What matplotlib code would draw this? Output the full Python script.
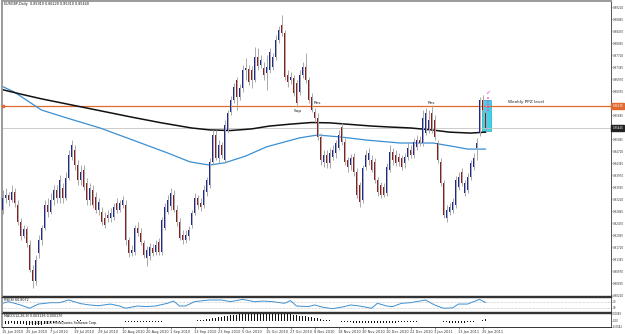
import matplotlib
matplotlib.use('Agg')
import matplotlib.pyplot as plt
import matplotlib.transforms as mtransforms
from matplotlib.patches import Rectangle
import numpy as np

# ---------------- data (prices in 1e-4 units) ----------------
open_p = [8288, 8325, 8335, 8319, 8344, 8303, 8250, 8206, 8228, 8178,
          8100, 8066, 8153, 8194, 8231, 8303, 8281, 8319, 8350, 8325,
          8356, 8325, 8388, 8453, 8475, 8428, 8381, 8413, 8372, 8319,
          8350, 8328, 8288, 8281, 8263, 8272, 8263, 8266, 8310, 8288,
          8303, 8303, 8194, 8153, 8156, 8231, 8216, 8184, 8138, 8144,
          8169, 8156, 8188, 8156, 8231, 8281, 8300, 8335, 8288, 8250,
          8209, 8194, 8206, 8241, 8278, 8325, 8310, 8303, 8344, 8366,
          8438, 8522, 8450, 8491, 8444, 8538, 8594, 8631, 8694, 8641,
          8669, 8725, 8728, 8725, 8694, 8766, 8741, 8731, 8716, 8725,
          8735, 8766, 8819, 8866, 8841, 8710, 8694, 8700, 8685, 8656,
          8710, 8735, 8694, 8641, 8594, 8575, 8516, 8438, 8460, 8435,
          8453, 8466, 8481, 8547, 8500, 8444, 8428, 8453, 8406, 8366,
          8319, 8422, 8444, 8444, 8438, 8381, 8366, 8360, 8341, 8413,
          8469, 8460, 8453, 8450, 8435, 8453, 8475, 8460, 8485, 8506,
          8497, 8528, 8538, 8591, 8569, 8497, 8438, 8372, 8263, 8281,
          8288, 8303, 8360, 8406, 8341, 8350, 8391, 8422, 8481, 8528,
          8631, 8591]
close_p = [8325, 8335, 8319, 8344, 8310, 8250, 8206, 8228, 8184, 8100,
           8066, 8131, 8194, 8231, 8303, 8281, 8319, 8350, 8325, 8381,
           8325, 8388, 8460, 8491, 8428, 8381, 8406, 8360, 8319, 8356,
           8303, 8288, 8313, 8250, 8241, 8263, 8278, 8297, 8288, 8310,
           8319, 8194, 8153, 8163, 8231, 8216, 8188, 8147, 8163, 8172,
           8153, 8178, 8156, 8256, 8297, 8319, 8341, 8288, 8250, 8200,
           8194, 8209, 8225, 8278, 8325, 8303, 8297, 8350, 8381, 8438,
           8522, 8450, 8491, 8460, 8553, 8591, 8631, 8672, 8641, 8669,
           8725, 8731, 8688, 8694, 8766, 8738, 8756, 8710, 8735, 8781,
           8766, 8819, 8850, 8841, 8703, 8688, 8703, 8653, 8622, 8710,
           8735, 8694, 8631, 8600, 8575, 8516, 8444, 8460, 8435, 8466,
           8475, 8497, 8522, 8500, 8438, 8422, 8450, 8406, 8335, 8313,
           8419, 8460, 8466, 8413, 8381, 8344, 8335, 8335, 8422, 8469,
           8444, 8435, 8438, 8422, 8453, 8481, 8460, 8500, 8506, 8497,
           8575, 8591, 8569, 8538, 8516, 8444, 8372, 8272, 8288, 8297,
           8313, 8381, 8391, 8372, 8372, 8391, 8435, 8450, 8497, 8631,
           8600, 8544]
high_p = [8350, 8356, 8344, 8366, 8356, 8319, 8263, 8241, 8238, 8194,
          8116, 8147, 8209, 8241, 8319, 8325, 8341, 8366, 8366, 8397,
          8372, 8406, 8475, 8506, 8491, 8444, 8428, 8428, 8388, 8372,
          8366, 8344, 8325, 8297, 8281, 8288, 8294, 8310, 8325, 8319,
          8331, 8319, 8203, 8178, 8241, 8250, 8231, 8194, 8175, 8184,
          8181, 8194, 8200, 8266, 8310, 8335, 8356, 8350, 8303, 8263,
          8225, 8225, 8238, 8288, 8341, 8335, 8325, 8366, 8391, 8450,
          8538, 8538, 8506, 8500, 8569, 8600, 8644, 8685, 8703, 8681,
          8741, 8763, 8741, 8738, 8797, 8794, 8772, 8750, 8772, 8794,
          8778, 8835, 8863, 8897, 8850, 8725, 8719, 8710, 8694, 8725,
          8750, 8778, 8703, 8653, 8606, 8591, 8528, 8475, 8475, 8481,
          8491, 8506, 8538, 8560, 8513, 8453, 8463, 8466, 8419, 8375,
          8428, 8475, 8481, 8460, 8450, 8391, 8375, 8372, 8435, 8491,
          8481, 8475, 8466, 8460, 8466, 8497, 8491, 8513, 8522, 8519,
          8600, 8606, 8600, 8616, 8585, 8506, 8450, 8381, 8303, 8310,
          8325, 8394, 8406, 8419, 8381, 8403, 8444, 8466, 8513, 8641,
          8647, 8622]
low_p = [8275, 8310, 8300, 8313, 8297, 8241, 8194, 8200, 8172, 8094,
         8044, 8053, 8138, 8178, 8225, 8266, 8275, 8303, 8310, 8310,
         8310, 8319, 8381, 8444, 8413, 8366, 8366, 8350, 8303, 8303,
         8294, 8278, 8272, 8241, 8231, 8250, 8250, 8256, 8278, 8281,
         8294, 8178, 8141, 8144, 8147, 8206, 8178, 8138, 8113, 8131,
         8144, 8147, 8147, 8147, 8225, 8275, 8288, 8281, 8238, 8194,
         8181, 8184, 8194, 8231, 8272, 8291, 8285, 8294, 8331, 8356,
         8428, 8444, 8435, 8450, 8435, 8528, 8585, 8622, 8600, 8631,
         8656, 8694, 8678, 8669, 8688, 8725, 8731, 8694, 8663, 8716,
         8725, 8756, 8810, 8831, 8694, 8672, 8681, 8644, 8610, 8647,
         8700, 8685, 8622, 8594, 8563, 8506, 8428, 8422, 8419, 8419,
         8444, 8450, 8475, 8491, 8428, 8406, 8413, 8394, 8325, 8297,
         8310, 8413, 8428, 8406, 8372, 8331, 8325, 8328, 8331, 8406,
         8428, 8425, 8425, 8413, 8419, 8444, 8450, 8450, 8475, 8488,
         8488, 8522, 8528, 8528, 8506, 8435, 8363, 8263, 8250, 8272,
         8278, 8294, 8350, 8363, 8331, 8341, 8381, 8413, 8444, 8519,
         8591, 8531]

# moving averages (bar index, value in 1e-4)
ma_black_idx = [-1, 6, 13, 23, 33, 43, 53, 63, 69, 76, 83, 89, 96, 103, 109, 116,
                123, 129, 136, 143, 149, 156, 161]
ma_black_val = [8666, 8650, 8635, 8616, 8597, 8578, 8560, 8544, 8538, 8536, 8541,
                8550, 8556, 8561, 8560, 8555, 8550, 8547, 8544, 8538, 8531, 8528, 8531]
ma_blue_idx = [-1, 4, 8, 13, 21.5, 32.5, 43.5, 55, 62.5, 69, 74, 81, 88, 99, 105,
               112.5, 121.5, 132.5, 143.5, 151, 155, 161]
ma_blue_val = [8678, 8656, 8631, 8600, 8575, 8544, 8506, 8466, 8438, 8428, 8435,
               8456, 8485, 8513, 8522, 8516, 8506, 8497, 8497, 8485, 8478, 8478]

# RSI(8)
rsi_idx = [0, 2, 6, 9, 12, 16, 19, 22, 26, 29, 32, 36, 39, 41, 45, 48, 51, 55, 57, 59,
           61, 64, 67, 69, 73, 76, 80, 84, 87, 90, 94, 96, 98, 102, 104, 107, 110, 114,
           116, 119, 123, 125, 128, 130, 133, 136, 141, 144, 147, 150, 152, 155, 159, 161]
rsi_val = [58, 69, 47, 25, 53, 62, 62, 80, 56, 47, 42, 53, 40, 25, 40, 36, 40, 58, 73, 40,
           40, 69, 76, 80, 80, 69, 84, 69, 73, 69, 58, 76, 40, 36, 47, 31, 22, 36,
           47, 40, 25, 58, 40, 36, 58, 62, 80, 47, 25, 27, 53, 53, 84, 64]

# MACD histogram (1e-4 units)
macd_hist = [-22, -22, -21, -20, -21, -23, -25, -27, -29, -32, -34, -33, -31, -28, -25, -22, -18,
             -15, -13, -11, -8, -6, -4, -1, 0, 1, 1, 0, -1, -1, -2,
             -3, -4, -4, -4, -5, -5, -5, -6, -6, -6, -7, -8, -8, -8, -8, -8, -9, -9, -9, -8,
             -8, -8, -7, -6, -6,
             -4, -4, -4, -4, -4, -4, -3, -1, 0, 2, 4,
             7, 10, 13, 18, 21, 24, 27, 30, 34, 36, 39, 41, 43, 45,
             46, 48, 48, 49, 49, 49, 48, 48, 48, 49, 50, 50, 50, 48, 46, 43,
             41, 38, 35, 32, 30, 27, 24, 20, 16, 11, 7, 4, 1, -2,
             -4, -6, -8, -9, -11, -13, -14, -15, -17, -18, -18, -17, -17, -17, -18, -18, -18,
             -17, -16, -15, -14, -13, -13, -11, -11, -10, -8, -8, -6, -4,
             -3, -1, -1, -1, -4, -6, -10, -13, -15, -17, -18, -17, -15, -14, -12, -10, -7,
             -4, -1, 4, 8]

date_labels = ['15 Jun 2010', '25 Jun 2010', '7 Jul 2010', '19 Jul 2010', '29 Jul 2010',
               '10 Aug 2010', '20 Aug 2010', '1 Sep 2010', '13 Sep 2010', '23 Sep 2010',
               '5 Oct 2010', '15 Oct 2010', '27 Oct 2010', '8 Nov 2010', '18 Nov 2010',
               '30 Nov 2010', '10 Dec 2010', '22 Dec 2010', '3 Jan 2011', '13 Jan 2011',
               '25 Jan 2011']
date_bars = [0, 8, 16, 24, 32, 40, 48, 56, 64, 72, 80, 88, 96, 104, 112, 120, 128, 136,
             144, 152, 160]

# price-scale labels (the two hidden under the level boxes are omitted)
price_ticks = [0.89220, 0.88845, 0.88470, 0.88095, 0.87720, 0.87345, 0.86970, 0.86595,
               0.85845, 0.85095, 0.84720, 0.84345, 0.83970, 0.83595,
               0.83220, 0.82845, 0.82470, 0.82095, 0.81720, 0.81345, 0.80970, 0.80595,
               0.80220]
ppz_level = 0.8613
last_price = 0.8544
box_top, box_bottom = 0.8631, 0.8535

# ---------------- figure ----------------
W, H = 625, 334
fig = plt.figure(figsize=(W / 100, H / 100), dpi=100)
fig.patch.set_facecolor('white')


def fy(px):
    return 1 - px / H


L, R = 2, 611
ax = fig.add_axes([L / W, fy(296), (R - L) / W, 295 / H])
ax_r = fig.add_axes([L / W, fy(312), (R - L) / W, 15 / H])
ax_m = fig.add_axes([L / W, fy(327), (R - L) / W, 14 / H])

xlim = ((L - 2.5) / 3, (R - 2.5) / 3)
for a in (ax, ax_r, ax_m):
    a.set_xlim(*xlim)
    a.set_facecolor('white')

o = np.array(open_p) / 1e4
c = np.array(close_p) / 1e4
h = np.array(high_p) / 1e4
lo = np.array(low_p) / 1e4
idx = np.arange(len(o))

# cyan zone (drawn behind candles)
ax.add_patch(Rectangle((159.7, box_bottom), 3.0, box_top - box_bottom,
                       facecolor='#3fd3ea', edgecolor='#27a9c9', lw=0.5, zorder=1))

# reference lines
ax.axhline(ppz_level, color='#e0692f', lw=0.9, zorder=2)
ax.axhline(last_price, color='#c4c4c4', lw=0.6, zorder=1.5)
ax.plot([0.1], [ppz_level], marker='o', ms=1.6, color='#e0692f', zorder=3, clip_on=False)

# moving averages
ax.plot(ma_blue_idx, np.array(ma_blue_val) / 1e4, color='#3a8fd2', lw=0.9, zorder=2.5)
ax.plot(ma_black_idx, np.array(ma_black_val) / 1e4, color='#111111', lw=1.1, zorder=2.5)

# candles
ax.vlines(idx, lo, h, color='#a9a9a9', lw=0.7, zorder=3)
bull = c >= o
cols = np.where(bull, '#1d2896', '#8e1c1c')
body = np.maximum(np.abs(c - o), 0.00006)
ax.bar(idx, body, bottom=np.minimum(o, c), width=0.66, color=cols, lw=0, zorder=4)

# magenta marker
ax.vlines(161.8, 0.8596, 0.8641, colors='#e03ce0', linestyles=(0, (1, 1)), lw=1.1, zorder=5)
ax.text(161.8, 0.8655, '\u2713', color='#e03ce0', fontsize=4.5, ha='center', va='center', zorder=5)

# annotations
ax.text(98.5, 0.8597, 'Sup', fontsize=3.1, ha='center', va='center', color='#222222')
ax.text(105, 0.8621, 'Res', fontsize=3.1, ha='center', va='center', color='#222222')
ax.text(142.8, 0.8621, 'Res', fontsize=3.1, ha='center', va='center', color='#222222')
ax.text(174.5, 0.8625, 'Weekly PPZ level', fontsize=3.1, ha='center', va='center', color='#222222')

ax.text(2 / (R - L), 1 - 1.2 / 295, 'EURGBP,Daily  0.85910 0.86220 0.85310 0.85440',
        transform=ax.transAxes, fontsize=2.4, ha='left', va='top', color='#111111')

# price axis
ytop = 0.89439 - 0.0003125 * 1
ybot = 0.89439 - 0.0003125 * 296
ax.set_ylim(ybot, ytop)
ax.yaxis.tick_right()
ax.set_yticks(price_ticks)
ax.set_yticklabels([f'{v:.5f}' for v in price_ticks])
ax.tick_params(axis='y', labelsize=2.0, length=1.0, width=0.4, pad=0.5, colors='#333333')
ax.set_xticks([])

blend = mtransforms.blended_transform_factory(ax.transAxes, ax.transData)
ax.text(1.0025, ppz_level, '0.86130', transform=blend, fontsize=1.9, color='white', ha='left',
        va='center', clip_on=False, zorder=10,
        bbox=dict(facecolor='#e0692f', edgecolor='#e0692f', pad=0.4, boxstyle='square'))
ax.text(1.0025, last_price, '0.85440', transform=blend, fontsize=1.9, color='white', ha='left',
        va='center', clip_on=False, zorder=10,
        bbox=dict(facecolor='#222222', edgecolor='#222222', pad=0.4, boxstyle='square'))

for s in ('left', 'top'):
    ax.spines[s].set_color('#9a9a9a')
    ax.spines[s].set_linewidth(1.4)
ax.spines['right'].set_color('#555555')
ax.spines['right'].set_linewidth(0.7)
ax.spines['bottom'].set_color('#333333')
ax.spines['bottom'].set_linewidth(1.0)

# RSI pane
ax_r.plot(rsi_idx, rsi_val, color='#3a8fd2', lw=0.7)
ax_r.axhline(70, color='#9a9a9a', lw=0.4, ls=(0, (1, 1.5)))
ax_r.axhline(30, color='#9a9a9a', lw=0.4, ls=(0, (1, 1.5)))
ax_r.set_ylim(0, 100)
ax_r.yaxis.tick_right()
ax_r.set_yticks([70, 30])
ax_r.set_yticklabels(['70', '30'])
ax_r.tick_params(axis='y', labelsize=2.0, length=1.0, width=0.4, pad=0.5, colors='#333333')
ax_r.set_xticks([])
ax_r.text(2 / (R - L), 0.93, 'RSI(8) 60.8072', transform=ax_r.transAxes, fontsize=2.3,
          ha='left', va='top', color='#111111')
for s in ('top', 'bottom'):
    ax_r.spines[s].set_color('#333333')
    ax_r.spines[s].set_linewidth(1.0)
ax_r.spines['left'].set_color('#9a9a9a')
ax_r.spines['left'].set_linewidth(1.4)
ax_r.spines['right'].set_color('#555555')
ax_r.spines['right'].set_linewidth(0.7)

# MACD pane
ax_m.bar(idx, np.array(macd_hist) / 1e4, width=0.35, color='#111111', lw=0)
ax_m.set_ylim(-0.00455, 0.00525)
ax_m.yaxis.tick_right()
ax_m.set_yticks([0.0049, 0.0, -0.0042])
ax_m.set_yticklabels(['0.0049', '0.00', '-0.0042'])
ax_m.tick_params(axis='y', labelsize=1.9, length=1.0, width=0.4, pad=0.5, colors='#333333')
ax_m.set_xticks(date_bars)
ax_m.set_xticklabels(date_labels)
for lbl in ax_m.get_xticklabels():
    lbl.set_ha('left')
ax_m.tick_params(axis='x', labelsize=2.5, length=1.3, width=0.4, pad=0.6, colors='#333333')
ax_m.text(2 / (R - L), 0.95, 'MACD(12,26,9) 0.003136 0.000170', transform=ax_m.transAxes,
          fontsize=2.3, ha='left', va='top', color='#111111')
ax_m.text(28 / (R - L), 0.28, '\u00a9 2001-2010 MetaQuotes Software Corp.', transform=ax_m.transAxes,
          fontsize=2.3, ha='left', va='center', color='#111111')
ax_m.spines['top'].set_color('#333333')
ax_m.spines['top'].set_linewidth(1.0)
ax_m.spines['bottom'].set_color('#333333')
ax_m.spines['bottom'].set_linewidth(0.7)
ax_m.spines['left'].set_color('#9a9a9a')
ax_m.spines['left'].set_linewidth(1.4)
ax_m.spines['right'].set_color('#555555')
ax_m.spines['right'].set_linewidth(0.7)

fig.savefig('out.png', dpi=100, facecolor='white')
